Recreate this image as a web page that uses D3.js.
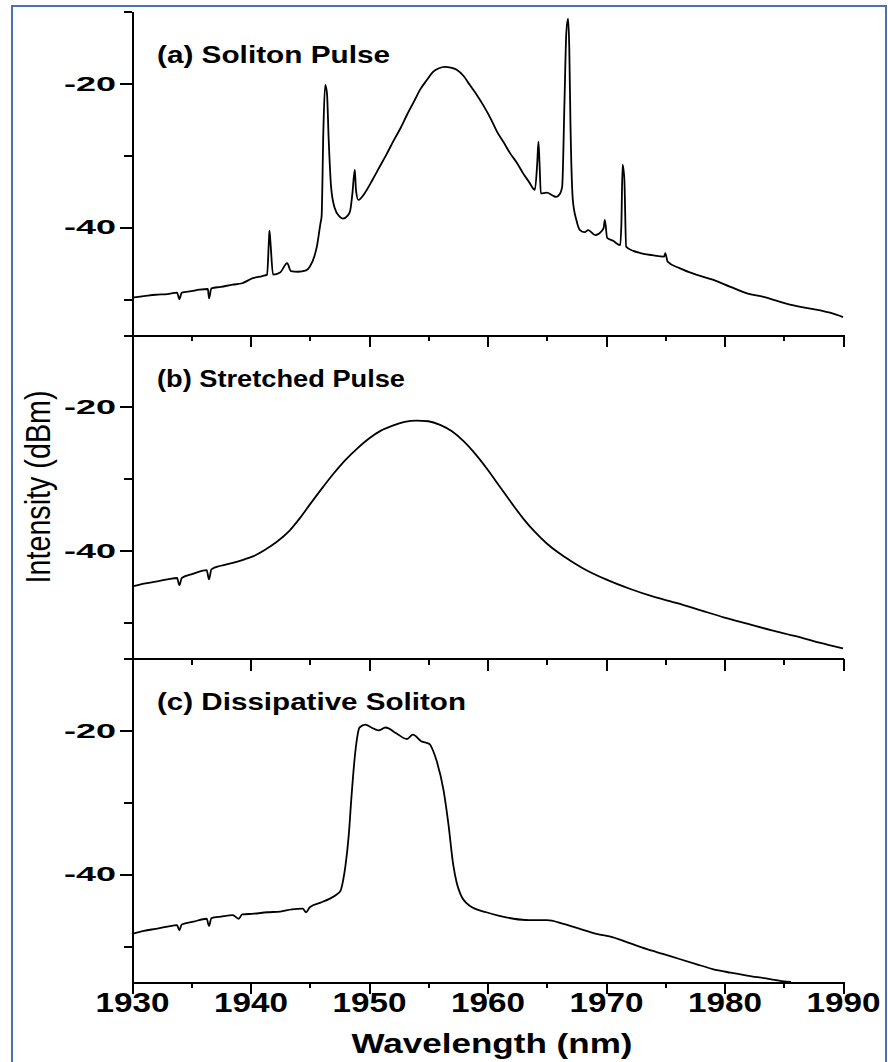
<!DOCTYPE html>
<html>
<head>
    <meta charset="utf-8">
    <title>Mode-locked spectra</title>
    <script src="https://d3js.org/d3.v7.min.js"></script>
    <style>
        body {margin: 0; background: #ffffff;}
        svg {display: block; font-family: "Liberation Sans", Arial, sans-serif;}
        .axis path, .axis line {stroke: #000; stroke-width: 2; shape-rendering: crispEdges;}
        .axis text {fill: #000; font-weight: bold;}
        .spectrum {fill: none; stroke: #000; stroke-width: 1.8; stroke-linejoin: round;}
    </style>
</head>
<body>
<script>
    // (a) soliton pulse: wavelength (nm) / intensity (dBm)
    const wavelengthA = [1930.0, 1931.0, 1932.0, 1933.0, 1933.8, 1934.0, 1934.2, 1935.0, 1935.7, 1936.4, 1936.5, 1936.7,
        1937.5, 1938.5, 1939.3, 1940.2, 1941.0, 1941.4, 1941.55, 1941.6, 1941.7, 1941.9, 1942.5, 1943.1, 1943.4,
        1944.0, 1944.7, 1945.0, 1945.4, 1945.6, 1945.9, 1946.0, 1946.15, 1946.3, 1946.45, 1946.6, 1946.8, 1947.1,
        1947.5, 1947.8, 1948.2, 1948.4, 1948.6, 1948.8, 1948.9, 1949.1, 1949.7, 1950.3, 1950.9, 1951.5, 1952.1, 1952.7,
        1953.2, 1953.8, 1954.3, 1954.9, 1955.4, 1955.9, 1956.4, 1956.9, 1957.4, 1958.0, 1958.5, 1959.1, 1959.7,
        1960.3, 1960.8, 1961.4, 1961.9, 1962.5, 1963.0, 1963.5, 1964.0, 1964.2, 1964.3, 1964.4,
        1964.5, 1965.0, 1965.5, 1965.8, 1966.1, 1966.3, 1966.5, 1966.65, 1966.8, 1966.9, 1967.0, 1967.2, 1967.5,
        1967.8, 1968.2, 1968.5, 1969.1, 1969.6, 1969.8, 1969.9, 1970.1, 1970.6, 1971.2, 1971.3, 1971.4, 1971.55,
        1971.7, 1972.3, 1972.9, 1973.9, 1974.9, 1975.0, 1975.2, 1976.2, 1977.6, 1979.0, 1980.5, 1981.9, 1983.3,
        1984.7, 1986.1, 1987.5, 1988.9, 1990.0];
    const intensityA = [-49.8, -49.6, -49.4, -49.3, -49.1, -50.0, -49.1, -48.9, -48.7, -48.6, -49.9, -48.5,
        -48.3, -48.0, -47.8, -47.1, -46.8, -46.6, -42.0, -40.5, -42.5, -46.6, -46.3, -45.0, -46.1,
        -46.2, -46.0, -45.5, -44.0, -42.7, -39.5, -38.5, -26.5, -20.2, -21.3, -27.9, -34.4, -37.3,
        -38.5, -38.8, -38.4, -37.8, -35.3, -32.0, -34.8, -36.2, -35.1, -33.4, -31.6, -29.8, -27.9, -26.1,
        -24.4, -22.5, -20.9, -19.5, -18.4, -17.9, -17.7, -17.8, -18.1, -19.0, -20.2, -21.6, -23.2,
        -25.0, -26.7, -28.3, -29.7, -31.1, -32.5, -33.7, -34.8, -31.0, -28.1, -31.5,
        -35.3, -35.2, -35.6, -35.8, -35.4, -34.4, -22.3, -13.0, -11.0, -15.0, -25.5, -36.2, -39.0,
        -40.4, -40.7, -40.4, -41.1, -40.6, -40.1, -39.0, -41.5, -41.9, -42.5, -39.4, -31.3, -33.4,
        -42.7, -43.3, -43.6, -43.9, -44.1, -43.6, -44.8, -45.7, -46.6, -47.3, -48.3, -49.2, -49.7,
        -50.4, -51.0, -51.4, -51.9, -52.5];

    // (b) stretched pulse
    const wavelengthB = [1930, 1931, 1932, 1933, 1933.8, 1934.0, 1934.2, 1935, 1936.3, 1936.5, 1936.7, 1937.5,
        1938.5, 1939.5, 1940.2, 1941.2, 1942.2, 1943.3, 1944.2, 1945, 1946, 1947, 1948, 1949, 1950, 1951,
        1952, 1953, 1954, 1955, 1956, 1957, 1958, 1959, 1960, 1961, 1962, 1963, 1964, 1965, 1966, 1967,
        1968, 1970, 1972, 1974, 1976, 1978, 1980, 1982, 1984, 1986, 1988, 1990];
    const intensityB = [-45.0, -44.6, -44.3, -44.0, -43.8, -44.8, -43.8, -43.3, -42.7, -44.0, -42.6, -42.1,
        -41.7, -41.2, -40.8, -39.9, -38.8, -37.2, -35.4, -33.6, -31.4, -29.3, -27.4, -25.8, -24.4, -23.3,
        -22.6, -22.1, -21.9, -22.0, -22.5, -23.4, -24.8, -26.6, -28.7, -31.0, -33.3, -35.5, -37.4, -39.0, -40.3, -41.4,
        -42.4, -44.0, -45.3, -46.4, -47.3, -48.3, -49.3, -50.2, -51.1, -51.9, -52.8, -53.6];

    // (c) dissipative soliton
    const wavelengthC = [1930, 1931, 1932, 1933, 1933.8, 1934.0, 1934.2, 1935.2, 1936.3, 1936.5, 1936.7, 1937.5,
        1938.5, 1939.0, 1939.3, 1940.3, 1941.4, 1942.5, 1943.5, 1944.4, 1944.7, 1945.0, 1946.0, 1946.7, 1947.3,
        1947.6, 1947.8, 1948.0, 1948.3, 1948.5, 1948.8, 1949.0, 1949.2, 1949.7, 1950.2, 1950.8, 1951.4, 1952.3,
        1953.2, 1953.7, 1954.4, 1955.1, 1955.4, 1955.7, 1956.3, 1956.7, 1957.1, 1957.4, 1957.7, 1958.5, 1959.9,
        1961.0, 1962.2, 1963.5, 1965.0, 1966.4, 1967.8, 1969.2, 1970.6, 1972.0, 1973.4, 1974.8, 1976.2, 1977.6,
        1979.0, 1980.5, 1981.9, 1983.5, 1985.0, 1985.6];
    const intensityC = [-48.3, -47.9, -47.6, -47.3, -47.1, -47.8, -47.0, -46.6, -46.2, -47.2, -46.1, -45.9,
        -45.7, -46.2, -45.6, -45.5, -45.3, -45.2, -44.9, -44.8, -45.3, -44.6, -43.9, -43.4, -42.8,
        -42.3, -41.0, -39.0, -34.4, -29.7, -23.7, -21.0, -19.6, -19.2, -19.6, -20.0, -19.6, -20.4,
        -21.2, -20.6, -21.5, -21.9, -22.8, -24.2, -28.4, -33.0, -38.6, -41.2, -42.7, -44.4, -45.3,
        -45.8, -46.2, -46.4, -46.4, -46.9, -47.6, -48.3, -48.8, -49.6, -50.4, -51.1, -51.8, -52.5,
        -53.2, -53.7, -54.1, -54.5, -54.9, -55.0];

    const panelTitles = ["(a) Soliton Pulse", "(b) Stretched Pulse", "(c) Dissipative Soliton"];
    const titleWidths = [233, 248, 309];
    const xMajorTicks = [1930, 1940, 1950, 1960, 1970, 1980, 1990];
    const xMinorTicks = [1935, 1945, 1955, 1965, 1975, 1985];
    const yMajorTicks = [-20, -40];
    const yMinorTicks = [-10, -30, -50];

    const width = 888;
    const height = 1062;
    const plotLeft = 132, plotRight = 843;
    const plotTop = 11.5, panelH = 323.5;

    const svg = d3.select("body")
        .append("svg")
        .attr("width", width)
        .attr("height", height);

    svg.append("rect")
        .attr("width", width).attr("height", height)
        .attr("fill", "#ffffff");

    // blue frame round the figure
    svg.append("rect")
        .attr("x", 12).attr("y", 6)
        .attr("width", 874).attr("height", 1070)
        .attr("fill", "none")
        .attr("stroke", "#4a72b0")
        .attr("stroke-width", 2);

    const x = d3.scaleLinear().domain([1930, 1990]).range([plotLeft, plotRight]);
    const y = d3.scaleLinear().domain([-55, -10]).range([panelH, 0]);

    const line = d3.line()
        .curve(d3.curveMonotoneX)
        .x(d => x(d[0]))
        .y(d => y(d[1]));

    const series = [
        d3.zip(wavelengthA, intensityA),
        d3.zip(wavelengthB, intensityB),
        d3.zip(wavelengthC, intensityC)
    ];

    series.forEach(function(points, i) {
        const g = svg.append("g")
            .attr("transform", "translate(0," + (plotTop + i * panelH) + ")");
        const last = i === series.length - 1;

        // bottom axis, majors then minors
        const xAxis = g.append("g")
            .attr("class", "axis")
            .attr("transform", "translate(0," + panelH + ")")
            .call(d3.axisBottom(x).tickValues(xMajorTicks).tickSize(12).tickSizeOuter(0)
                .tickFormat(d => last ? String(d) : ""));
        g.append("g")
            .attr("class", "axis")
            .attr("transform", "translate(0," + panelH + ")")
            .call(d3.axisBottom(x).tickValues(xMinorTicks).tickSize(6).tickSizeOuter(0).tickFormat(""));
        if (last) {
            xAxis.selectAll("text")
                .attr("y", 10.5)
                .attr("font-size", 28)
                .attr("textLength", 74)
                .attr("lengthAdjust", "spacingAndGlyphs");
        }

        // left axis, labels keep a plain hyphen
        const yAxis = g.append("g")
            .attr("class", "axis")
            .attr("transform", "translate(" + plotLeft + ",0)")
            .call(d3.axisLeft(y).tickValues(yMajorTicks).tickSize(12).tickSizeOuter(0).tickPadding(4)
                .tickFormat(d => String(d)));
        yAxis.selectAll("text")
            .attr("font-size", 21)
            .attr("textLength", 52)
            .attr("lengthAdjust", "spacingAndGlyphs");
        g.append("g")
            .attr("class", "axis")
            .attr("transform", "translate(" + plotLeft + ",0)")
            .call(d3.axisLeft(y).tickValues(yMinorTicks).tickSize(8).tickSizeOuter(0).tickFormat(""));

        g.append("path")
            .datum(points)
            .attr("class", "spectrum")
            .attr("d", line);

        g.append("text")
            .attr("x", 157)
            .attr("y", 51.5)
            .attr("font-size", 23)
            .attr("font-weight", "bold")
            .attr("textLength", titleWidths[i])
            .attr("lengthAdjust", "spacingAndGlyphs")
            .text(panelTitles[i]);
    });

    // axis titles
    svg.append("text")
        .attr("x", 492)
        .attr("y", 1053)
        .attr("text-anchor", "middle")
        .attr("font-size", 27)
        .attr("font-weight", "bold")
        .attr("textLength", 281)
        .attr("lengthAdjust", "spacingAndGlyphs")
        .text("Wavelength (nm)");

    svg.append("text")
        .attr("transform", "translate(50,487) scale(1.2,1) rotate(-90)")
        .attr("text-anchor", "middle")
        .attr("font-size", 28.5)
        .attr("textLength", 193)
        .attr("lengthAdjust", "spacingAndGlyphs")
        .text("Intensity (dBm)");
</script>
</body>
</html>
